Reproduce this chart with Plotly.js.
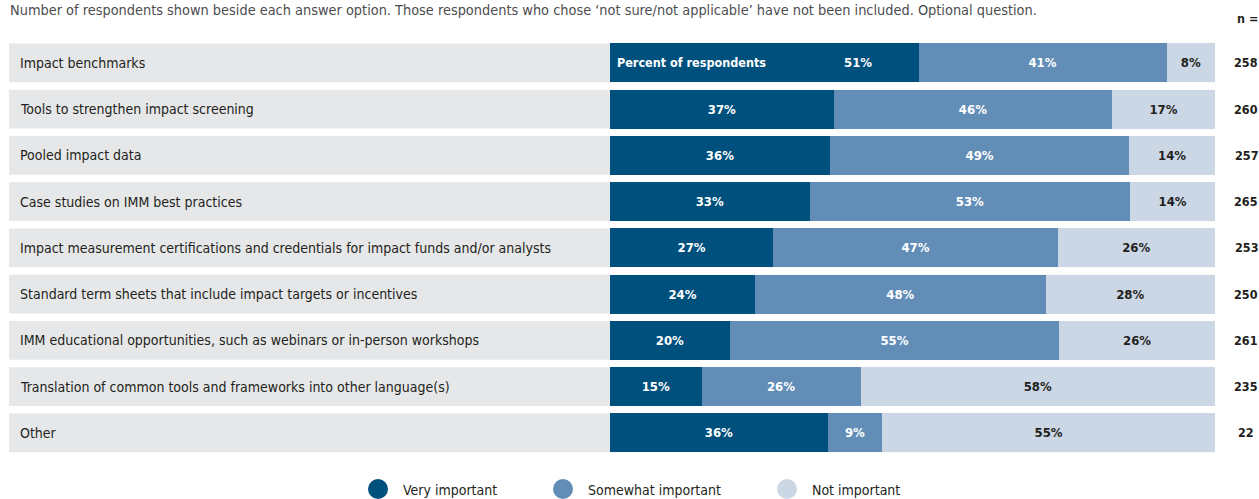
<!DOCTYPE html>
<html><head><meta charset="utf-8">
<script src="https://cdn.plot.ly/plotly-3.0.1.min.js"></script>
<style>html,body{margin:0;padding:0;background:#fff;}#chart{width:1259px;height:499px;}</style>
</head><body><div id="chart"></div>
<script>
const categories = [
  "Impact benchmarks",
  "Tools to strengthen impact screening",
  "Pooled impact data",
  "Case studies on IMM best practices",
  "Impact measurement certifications and credentials for impact funds and/or analysts",
  "Standard term sheets that include impact targets or incentives",
  "IMM educational opportunities, such as webinars or in-person workshops",
  "Translation of common tools and frameworks into other language(s)",
  "Other"
];
const veryImportant = [51, 37, 36, 33, 27, 24, 20, 15, 36];
const somewhatImportant = [41, 46, 49, 53, 47, 48, 55, 26, 9];
const notImportant = [8, 17, 14, 14, 26, 28, 26, 58, 55];
const nValues = [258, 260, 257, 265, 253, 250, 261, 235, 22];
const seriesNames = ["Very important", "Somewhat important", "Not important"];
const colors = ["#00507d", "#628db6", "#cbd7e5"];
const noteText = "Number of respondents shown beside each answer option. Those respondents who chose ‘not sure/not applicable’ have not been included. Optional question.";

const W = 1259, H = 499;
const FONT = "DejaVu Sans Condensed, sans-serif";
const totals = categories.map((c, i) => veryImportant[i] + somewhatImportant[i] + notImportant[i]);
const norm = arr => arr.map((v, i) => v / totals[i] * 100);
const series = [veryImportant, somewhatImportant, notImportant];
const textColors = ["#ffffff", "#ffffff", "#231f20"];

const traces = series.map((vals, s) => ({
  type: "bar", orientation: "h", name: seriesNames[s],
  y: categories, x: norm(vals),
  marker: {color: colors[s], line: {width: 0}},
  text: vals.map((v, i) => (s === 0 && i === 0) ? "" : v + "%"),
  textposition: "inside", insidetextanchor: "middle", textangle: 0,
  constraintext: "none",
  textfont: {family: FONT, size: 13, color: textColors[s], weight: 700},
  hoverinfo: "skip", showlegend: false, cliponaxis: false
}));

const shapes = categories.map((c, i) => ({
  type: "rect", xref: "paper", yref: "y", layer: "below",
  x0: 9 / W, x1: 1215 / W, y0: i - 0.42, y1: i + 0.42,
  fillcolor: "#e6e7e8", line: {width: 0}
}));

const annotations = [];
categories.forEach((c, i) => {
  annotations.push({xref: "paper", yref: "y", x: 18 / W, y: c, xanchor: "left", yanchor: "middle",
    text: c, showarrow: false, font: {family: FONT, size: 14, color: "#231f20"}});
  annotations.push({xref: "paper", yref: "y", x: 1246 / W, y: c, xanchor: "center", yanchor: "middle",
    text: String(nValues[i]), showarrow: false, font: {family: FONT, size: 12.5, color: "#231f20", weight: 700}});
});
annotations.push({xref: "paper", yref: "y", x: 615 / W, y: categories[0], xanchor: "left", yanchor: "middle",
  text: "Percent of respondents", showarrow: false, font: {family: FONT, size: 12.5, color: "#ffffff", weight: 700}});
annotations.push({xref: "x", yref: "y", x: norm(veryImportant)[0] - 10, y: categories[0], xanchor: "center", yanchor: "middle",
  text: veryImportant[0] + "%", showarrow: false, font: {family: FONT, size: 13, color: "#ffffff", weight: 700}});
annotations.push({xref: "paper", yref: "paper", x: 8 / W, y: 1 - 10 / H, xanchor: "left", yanchor: "middle",
  text: noteText, showarrow: false, font: {family: FONT, size: 14.4, color: "#4d4d4f"}});
annotations.push({xref: "paper", yref: "paper", x: 1247 / W, y: 1 - 18 / H, xanchor: "center", yanchor: "middle",
  text: "n =", showarrow: false, font: {family: FONT, size: 12.5, color: "#231f20", weight: 700}});

// legend
const legendX = [378, 563, 787];
seriesNames.forEach((name, s) => {
  shapes.push({type: "circle", xref: "paper", yref: "paper",
    x0: (legendX[s] - 10) / W, x1: (legendX[s] + 10) / W,
    y0: 1 - 499 / H, y1: 1 - 479 / H, fillcolor: colors[s], line: {width: 0}});
  annotations.push({xref: "paper", yref: "paper", x: (legendX[s] + 23) / W, y: 1 - 490 / H,
    xanchor: "left", yanchor: "middle", text: name, showarrow: false,
    font: {family: FONT, size: 14, color: "#231f20"}});
});

const layout = {
  width: W, height: H, margin: {l: 0, r: 0, t: 0, b: 0},
  paper_bgcolor: "#ffffff", plot_bgcolor: "rgba(0,0,0,0)",
  barmode: "stack", bargap: 0.157,
  xaxis: {domain: [610 / W, 1215 / W], range: [0, 100], visible: false, fixedrange: true},
  yaxis: {domain: [1 - 456 / H, 1 - 39.8 / H], type: "category", categoryorder: "array",
    categoryarray: categories, autorange: "reversed", visible: false, fixedrange: true},
  shapes: shapes, annotations: annotations, showlegend: false,
  font: {family: FONT}
};
Plotly.newPlot("chart", traces, layout, {staticPlot: true, displayModeBar: false});
</script></body></html>
